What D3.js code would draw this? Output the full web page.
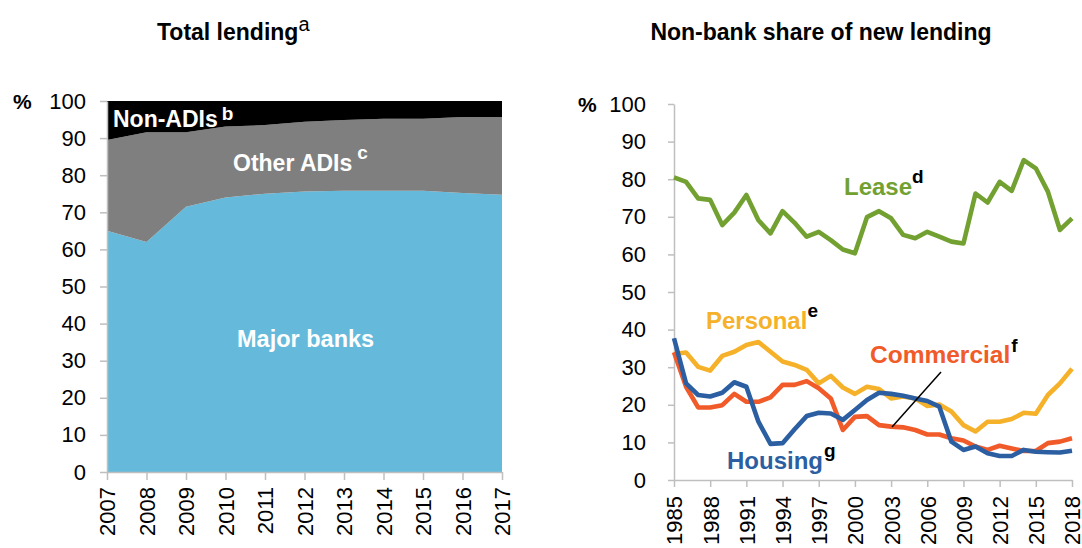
<!DOCTYPE html>
<html>
<head>
<meta charset="utf-8">
<script src="https://cdn.jsdelivr.net/npm/d3@7"></script>
<style>
  body { margin: 0; background: #fff; }
  text { font-family: "Liberation Sans", Arial, sans-serif; }
</style>
</head>
<body>
<div id="chart"></div>
<script>
// ---- data: total lending (left) ----
const lendYears = [2007, 2008, 2009, 2010, 2011, 2012, 2013, 2014, 2015, 2016, 2017];
const majorBanks = [65, 62, 71.5, 74, 75, 75.6, 75.8, 75.8, 75.8, 75.2, 74.7];
const otherADIs  = [24.5, 29.6, 20.1, 19.1, 18.5, 18.8, 19.1, 19.4, 19.4, 20.5, 21.0];
const nonADIs    = [10.5, 8.4, 8.4, 6.9, 6.5, 5.6, 5.1, 4.8, 4.8, 4.3, 4.3];

// ---- data: non-bank share of new lending (right) ----
const shareYears = d3.range(1985, 2019);
const lease = [80.5, 79.3, 74.9, 74.5, 67.8, 71.1, 75.8, 69.1, 65.6, 71.5, 68.4, 64.7, 66, 63.8, 61.3, 60.3,
  69.9, 71.5, 69.6, 65.2, 64.3, 66, 64.7, 63.4, 62.9, 76.2, 73.8, 79.3, 76.9, 85.1, 82.9, 76.7, 66.5, 69.6];
const personal = [33.5, 33.9, 30.1, 29.1, 33, 34.1, 35.9, 36.7, 34.1, 31.5, 30.6, 29.3, 25.7, 27.7, 24.6, 22.9,
  24.8, 24.2, 21.7, 22.2, 21.7, 19.7, 20.1, 18.2, 14.6, 12.9, 15.5, 15.5, 16.2, 17.9, 17.6, 22.6, 25.7, 29.6];
const commercial = [34, 24.8, 19.3, 19.3, 19.9, 22.9, 20.8, 20.8, 22, 25.3, 25.3, 26.3, 24.4, 21.7, 13.3, 16.8,
  17, 14.6, 14.2, 14, 13.3, 12.1, 12.1, 11.1, 10.5, 8.9, 8, 9.1, 8.4, 7.7, 7.7, 9.8, 10.2, 11.1];
const housing = [37.7, 25.7, 22.6, 22.2, 23.2, 26, 24.8, 15.5, 9.6, 9.8, 13.5, 17, 17.9, 17.7, 16, 18.6,
  21.3, 23.2, 22.9, 22.4, 21.7, 21, 19.5, 10.2, 8, 8.9, 7.1, 6.4, 6.4, 8, 7.5, 7.4, 7.3, 7.8];
const shareTicks = [1985, 1988, 1991, 1994, 1997, 2000, 2003, 2006, 2009, 2012, 2015, 2018];
const yTicks = d3.range(0, 101, 10);

const svgWidth = 1082;
const svgHeight = 548;
const axisColor = "#bfbfbf";

const svg = d3.select("#chart")
  .append("svg")
  .attr("width", svgWidth)
  .attr("height", svgHeight);

// ================= left panel =================
const xL = d3.scaleLinear().domain([2007, 2017]).range([107, 502]);
const yL = d3.scaleLinear().domain([0, 100]).range([472, 101]);

const lendRows = lendYears.map((y, i) => ({
  year: y, major: majorBanks[i], other: otherADIs[i], nonadi: nonADIs[i]
}));
const stacked = d3.stack().keys(["major", "other", "nonadi"])(lendRows);
const areaColors = { major: "#65badb", other: "#7f7f7f", nonadi: "#000000" };

const area = d3.area()
  .x(d => xL(d.data.year))
  .y0(d => yL(d[0]))
  .y1(d => yL(Math.min(100, d[1])));

svg.append("g").selectAll("path")
  .data(stacked)
  .enter()
  .append("path")
  .attr("d", area)
  .attr("fill", d => areaColors[d.key]);

// y axis
const leftY = svg.append("g")
  .attr("transform", "translate(107,0)")
  .call(d3.axisLeft(yL).tickValues(yTicks).tickSize(7).tickSizeOuter(0).tickPadding(14));

// x axis, labels turned on their side
const leftX = svg.append("g")
  .attr("transform", "translate(0,472)")
  .call(d3.axisBottom(xL).tickValues(lendYears).tickFormat(d3.format("d")).tickSize(8).tickSizeOuter(0));
leftX.selectAll("text")
  .attr("transform", "translate(0,15) rotate(-90)")
  .attr("x", 0).attr("y", 0).attr("dy", "0.36em")
  .style("text-anchor", "end");

// ================= right panel =================
const xR = d3.scaleLinear().domain([1985, 2018]).range([674, 1072]);
const yR = d3.scaleLinear().domain([0, 100]).range([480, 104]);

const rightY = svg.append("g")
  .attr("transform", "translate(674,0)")
  .call(d3.axisLeft(yR).tickValues(yTicks).tickSize(6).tickSizeOuter(0).tickPadding(22));

const rightX = svg.append("g")
  .attr("transform", "translate(0,480)")
  .call(d3.axisBottom(xR).tickValues(shareTicks).tickFormat(d3.format("d")).tickSize(7).tickSizeOuter(0));
rightX.selectAll("text")
  .attr("transform", "translate(0,16) rotate(-90)")
  .attr("x", 0).attr("y", 0).attr("dy", "0.36em")
  .style("text-anchor", "end");

// style both panels' axes
[leftY, leftX, rightY, rightX].forEach(ax => {
  ax.select(".domain").attr("stroke", axisColor).attr("stroke-width", 1.5);
  ax.selectAll(".tick line").attr("stroke", axisColor).attr("stroke-width", 1.5);
  ax.selectAll("text").attr("fill", "#000").style("font-size", "22px")
    .style("font-family", '"Liberation Sans", Arial, sans-serif');
});

const series = [
  { name: "lease", values: lease, color: "#72a131" },
  { name: "personal", values: personal, color: "#f6b12a" },
  { name: "commercial", values: commercial, color: "#f15a29" },
  { name: "housing", values: housing, color: "#2b5fa2" }
];

const line = d3.line()
  .x((d, i) => xR(shareYears[i]))
  .y(d => yR(d));

svg.append("g").selectAll("path")
  .data(series)
  .enter()
  .append("path")
  .attr("d", d => line(d.values))
  .attr("fill", "none")
  .attr("stroke", d => d.color)
  .attr("stroke-width", 4.6)
  .attr("stroke-linejoin", "round");

// leader line for Commercial
svg.append("line")
  .attr("x1", 941).attr("y1", 372)
  .attr("x2", 892).attr("y2", 427)
  .attr("stroke", "#000").attr("stroke-width", 1.5);

// ================= text =================
function label(x, y, txt, color, sup, supColor, supDy, size, supDx) {
  const t = svg.append("text")
    .attr("x", x).attr("y", y)
    .style("font-size", size + "px")
    .style("font-weight", "bold")
    .attr("fill", color)
    .text(txt);
  if (sup) {
    t.append("tspan")
      .attr("dx", supDx)
      .attr("dy", supDy)
      .style("font-size", "19px")
      .attr("fill", supColor)
      .text(sup);
  }
  return t;
}

// titles
const t1 = svg.append("text")
  .attr("x", 157).attr("y", 40)
  .style("font-size", "23px").style("font-weight", "bold")
  .text("Total lending");
t1.append("tspan").attr("dy", -9).style("font-size", "20px").style("font-weight", "normal").text("a");

svg.append("text")
  .attr("x", 821).attr("y", 40)
  .attr("text-anchor", "middle")
  .style("font-size", "23px").style("font-weight", "bold")
  .text("Non-bank share of new lending");

// percent signs
svg.append("text").attr("x", 13).attr("y", 109).style("font-size", "21px").style("font-weight", "bold").text("%");
svg.append("text").attr("x", 578).attr("y", 112).style("font-size", "21px").style("font-weight", "bold").text("%");

// area labels
label(113, 127, "Non-ADIs", "#fff", "b", "#fff", -7, 23, 4);
label(233, 171, "Other ADIs", "#fff", "c", "#fff", -12, 23, 5);
label(237, 347, "Major banks", "#fff", null, null, 0, 23.5, 0);

// line labels
label(844, 195, "Lease", "#72a131", "d", "#000", -12, 24, 0);
label(706, 329, "Personal", "#f6b12a", "e", "#000", -12, 24, 0);
label(870, 363, "Commercial", "#f15a29", "f", "#000", -11, 24.5, 1);
label(727, 469, "Housing", "#2b5fa2", "g", "#000", -12, 24, 1);
</script>
</body>
</html>
